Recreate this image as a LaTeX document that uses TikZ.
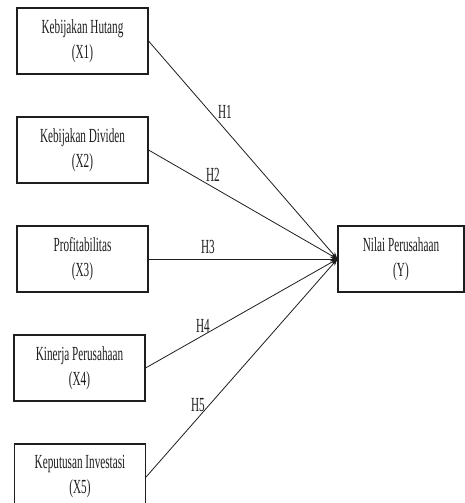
\documentclass[tikz,border=0pt]{standalone}
\usepackage{fontspec}
\newfontfamily\tnr[FakeStretch=0.56]{Liberation Serif}
\usetikzlibrary{arrows.meta}
\definecolor{ink}{HTML}{1E1E1E}
\begin{document}
\begin{tikzpicture}[x=1pt,y=-1pt,
  varbox/.style={draw=ink,line width=1.1pt,minimum width=131pt,minimum height=66pt,
    align=center,inner sep=0pt,font=\tnr\fontsize{20}{25}\selectfont,text=ink},
  hlabel/.style={font=\tnr\fontsize{20}{22}\selectfont,text=ink,inner sep=0pt},
  link/.style={draw=ink,line width=0.8pt,-{Stealth[length=7pt,width=5pt]}}]
\useasboundingbox (0,0) rectangle (465,503);
\clip (0,0) rectangle (465,503);
\fill[white] (0,0) rectangle (465,503);
\node[varbox] (x1) at (82.5,41) {Kebijakan Hutang\\(X1)};
\node[varbox] (x2) at (82.5,150) {Kebijakan Dividen\\(X2)};
\node[varbox] (x3) at (82.5,259) {Profitabilitas\\(X3)};
\node[varbox] (x4) at (79.5,368) {Kinerja Perusahaan\\(X4)};
\node[varbox] (x5) at (80,477) {Keputusan Investasi\\(X5)};
\node[varbox,minimum width=126pt] (y) at (401,259) {Nilai Perusahaan\\(Y)};
\draw[link] (x1.east) -- (y.west);
\draw[link] (x2.east) -- (y.west);
\draw[link] (x3.east) -- (y.west);
\draw[link] (x4.east) -- (y.west);
\draw[link] (x5.east) -- (y.west);
\node[hlabel] (h1) at (225,112) {H1};
\node[hlabel] (h2) at (213,175) {H2};
\node[hlabel] (h3) at (208,247) {H3};
\node[hlabel] (h4) at (203,326) {H4};
\node[hlabel] (h5) at (198,405) {H5};
\end{tikzpicture}
\end{document}
